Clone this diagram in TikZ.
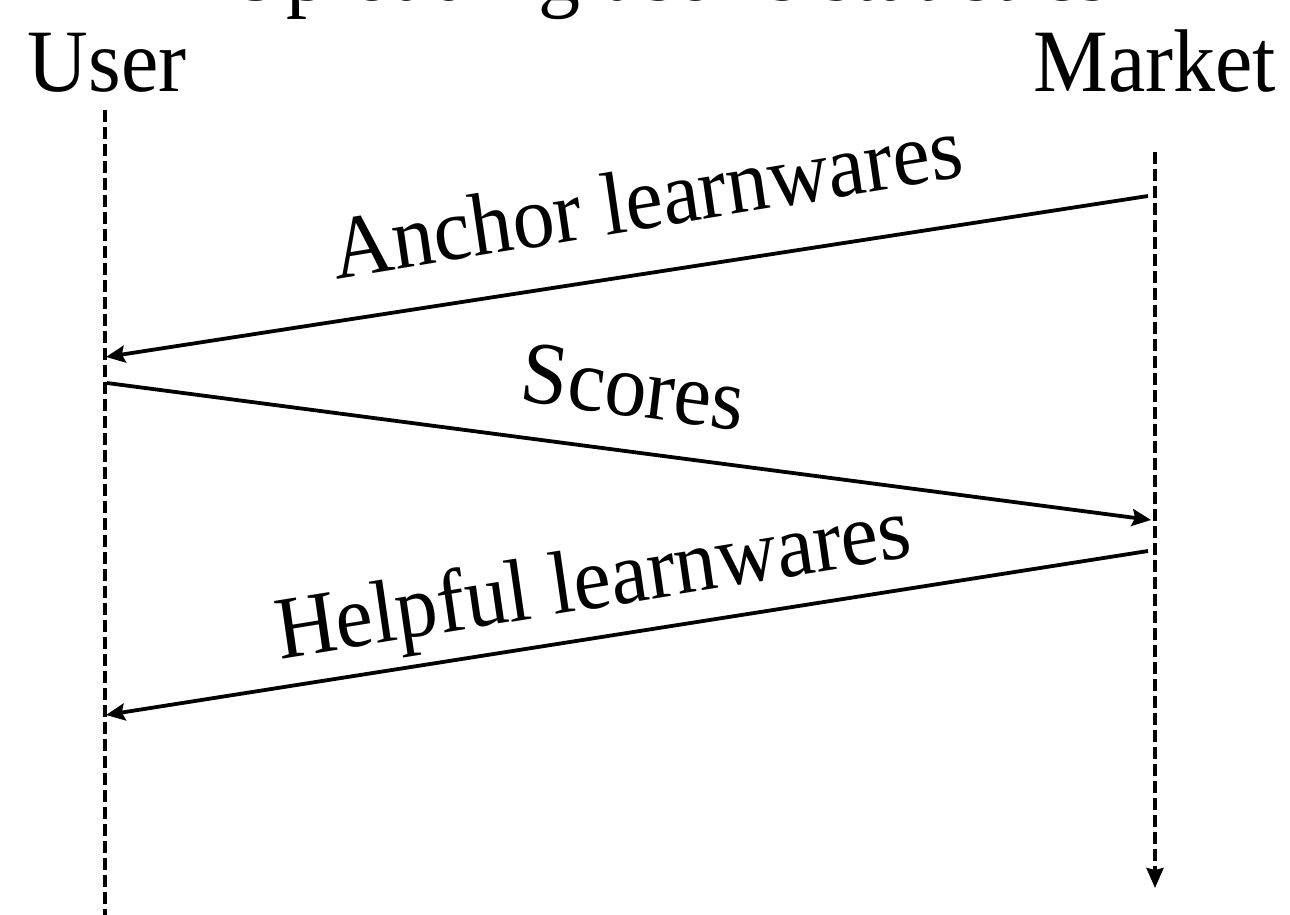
\documentclass[tikz,border=0pt]{standalone}
\usepackage{fontspec}
\setmainfont{Liberation Serif}
\usetikzlibrary{arrows.meta}
\begin{document}
\begin{tikzpicture}[x=1pt,y=-1pt,
  lifeline/.style={line width=3.5pt, dash pattern=on 12pt off 5pt},
  lifetip/.style={-{Stealth[length=20pt,width=17pt,inset=2pt]}},
  msg/.style={line width=3.8pt, -{Stealth[length=19pt,width=17pt,inset=3pt]}},
  lbl/.style={font=\fontsize{84}{90}\selectfont, inner sep=0pt, anchor=base, yscale=1.06}]
\useasboundingbox (0,0) rectangle (1290,915);
% titles
\node[lbl] (title) at (668,1) {Uploading user's statistics};
\node[lbl] (user) at (107,92) {User};
\node[lbl] (market) at (1155,92) {Market};
% lifelines
\coordinate (uTop) at (105,110);
\coordinate (uBot) at (105,938);
\coordinate (mTop) at (1155,152);
\coordinate (mBot) at (1155,888);
\draw[lifeline, lifetip] (uTop) -- (uBot);
\draw[lifeline, lifetip] (mTop) -- (mBot);
% messages
\coordinate (a1s) at (1148,196);
\coordinate (a1e) at (106,357);
\coordinate (a2s) at (107,383);
\coordinate (a2e) at (1151,520);
\coordinate (a3s) at (1148,551);
\coordinate (a3e) at (106,715);
\draw[msg] (a1s) -- (a1e);
\draw[msg] (a2s) -- (a2e);
\draw[msg] (a3s) -- (a3e);
% labels
\node[lbl, rotate=8.8] (l1) at (651,228) {Anchor learnwares};
\node[lbl, rotate=-7.4] (l2) at (630,416) {Scores};
\node[lbl, rotate=8.7] (l3) at (597,608) {Helpful learnwares};
\end{tikzpicture}
\end{document}
